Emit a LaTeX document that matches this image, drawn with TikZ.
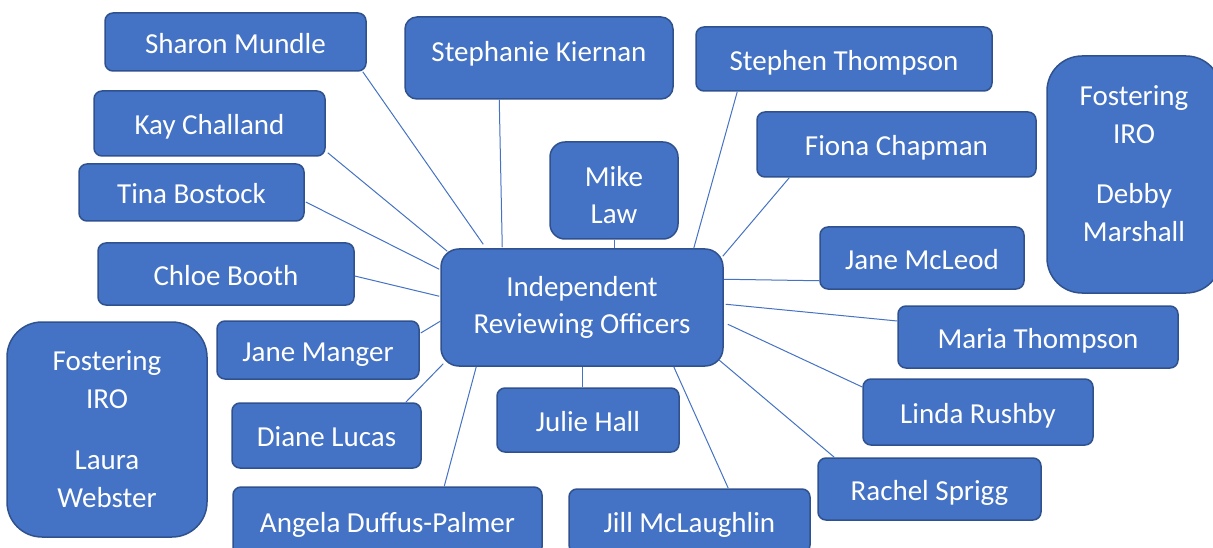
\documentclass[tikz,border=0pt]{standalone}
\usepackage{fontspec}
\setmainfont{Carlito}
\usetikzlibrary{calc}
\definecolor{boxfill}{HTML}{4472C4}
\definecolor{boxline}{HTML}{2F528F}
\begin{document}
\begin{tikzpicture}[x=1pt,y=-1pt,
  person/.style={draw=boxline,fill=boxfill,line width=1.5pt,rounded corners=8pt,
    text=white,font=\fontsize{29pt}{37pt}\selectfont,inner sep=0pt,align=center},
  oneline/.style={person,text height=24pt,text depth=1.6pt},
  bigbox/.style={person,rounded corners=35pt,font=\fontsize{29pt}{38pt}\selectfont},
  link/.style={draw=boxfill,line width=1pt}]
\useasboundingbox (0,0) rectangle (1213,548);

\node[oneline,minimum width=261pt,minimum height=58pt] (sharon) at (235.5,42) {Sharon Mundle};
\node[oneline,minimum width=231pt,minimum height=65pt] (kay) at (209.5,123.5) {Kay Challand};
\node[oneline,minimum width=225pt,minimum height=57pt] (tina) at (191.5,192.5) {Tina Bostock};
\node[oneline,minimum width=256pt,minimum height=62pt] (chloe) at (226,274) {Chloe Booth};
\node[oneline,minimum width=202pt,minimum height=58pt] (manger) at (318,350) {Jane Manger};
\node[bigbox,minimum width=200pt,minimum height=215pt] (laura) at (107,429.5) {Fostering\\IRO\\[23pt]Laura\\Webster};
\node[oneline,minimum width=189pt,minimum height=65pt] (diane) at (326.5,435.5) {Diane Lucas};
\node[oneline,minimum width=309pt,minimum height=68pt] (angela) at (387.5,521) {Angela Duffus-Palmer};
\node[oneline,minimum width=182pt,minimum height=64pt] (julie) at (588,420) {Julie Hall};
\node[oneline,minimum width=241pt,minimum height=64pt] (jill) at (689.5,521) {Jill McLaughlin};
\node[person,rounded corners=18pt,minimum width=282pt,minimum height=117pt] (irc) at (582,307.5) {Independent\\Reviewing Officers};
\node[person,rounded corners=15pt,minimum width=128pt,minimum height=97pt] (mike) at (614,190.5)
  {\raisebox{-7pt}[\height][\depth]{\begin{tabular}{@{}c@{}}Mike\\Law\end{tabular}}};
\node[oneline,rounded corners=12pt,minimum width=268pt,minimum height=82pt,text depth=16pt] (stephanie) at (539,58) {Stephanie Kiernan};
\node[oneline,minimum width=296pt,minimum height=64pt] (stephen) at (844,59) {Stephen Thompson};
\node[oneline,minimum width=279pt,minimum height=65pt] (fiona) at (896.5,144.5) {Fiona Chapman};
\node[oneline,minimum width=204pt,minimum height=62pt] (mcleod) at (922,258) {Jane McLeod};
\node[bigbox,minimum width=174pt,minimum height=237pt] (debby) at (1134,174.5) {Fostering\\IRO\\[22pt]Debby\\Marshall\\[-16pt]\mbox{}};
\node[oneline,minimum width=280pt,minimum height=62pt] (maria) at (1038,337) {Maria Thompson};
\node[oneline,minimum width=230pt,minimum height=66pt] (linda) at (978,412) {Linda Rushby};
\node[oneline,minimum width=223pt,minimum height=62pt] (rachel) at (929.5,489) {Rachel Sprigg};

\draw[link] ($(sharon.south east)+(-4,0)$) -- ($(irc.north west)+(43,-4)$);
\draw[link] ($(kay.south east)+(2,-4)$) -- ($(irc.north west)+(7,3)$);
\draw[link] ($(tina.east)+(1,9.5)$) -- ($(irc.north west)+(-1,21)$);
\draw[link] ($(chloe.east)+(0,2)$) -- ($(irc.north west)+(-1,48)$);
\draw[link] ($(manger.east)+(1,-17)$) -- ($(irc.north west)+(0,73)$);
\draw[link] ($(diane.north east)+(-16,0)$) -- ($(irc.south west)+(3,-3)$);
\draw[link] ($(angela.north west)+(212,0)$) -- ($(irc.south west)+(36,0)$);
\draw[link] (irc.south) -- (irc.south |- julie.north);
\draw[link] ($(irc.south east)+(-50,0)$) -- ($(jill.north west)+(160,0)$);
\draw[link] ($(irc.south east)+(-5,-7)$) -- ($(rachel.north west)+(17,0)$);
\draw[link] ($(irc.north east)+(4,76)$) -- ($(linda.west)+(0,-25)$);
\draw[link] ($(irc.north east)+(2,56)$) -- ($(maria.west)+(0,-16)$);
\draw[link] ($(irc.north east)+(0,31)$) -- ($(mcleod.south west)+(0,-9)$);
\draw[link] ($(irc.north east)+(-1,8)$) -- ($(fiona.south west)+(33,0)$);
\draw[link] ($(irc.north east)+(-30,0)$) -- ($(stephen.south west)+(42,0)$);
\draw[link] (mike.south) -- (irc.north -| mike.south);
\draw[link] ($(irc.north west)+(62,-1)$) -- ($(stephanie.south west)+(95,0)$);
\end{tikzpicture}
\end{document}
